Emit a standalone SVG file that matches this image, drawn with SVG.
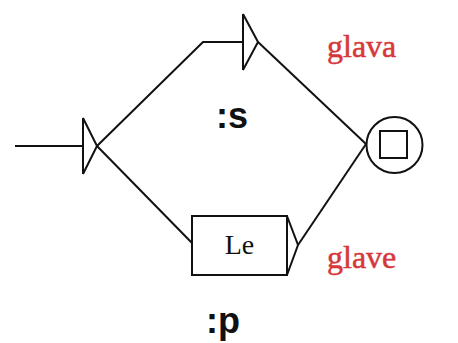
<svg xmlns="http://www.w3.org/2000/svg" width="458" height="343" viewBox="0 0 458 343">
  <style>
    .ln { fill: none; stroke: #111; stroke-width: 2; stroke-linejoin: miter; }
    .box { fill: #fff; stroke: #111; stroke-width: 2; }
    .tag { font-family: "Liberation Sans", Arial, sans-serif; font-weight: bold; font-size: 36px; fill: #111; }
    .out { font-family: "Liberation Serif", "Times New Roman", serif; font-size: 32px; fill: #d6373a; stroke: #d6373a; stroke-width: 0.5; }
    .lbl { font-family: "Liberation Serif", "Times New Roman", serif; font-size: 28px; fill: #111; }
  </style>
  <rect width="458" height="343" fill="#fff"/>

  <g id="connectors">
    <path class="ln" d="M15,146 H83"/>
    <path class="ln" d="M97,146 L203,42 H243"/>
    <path class="ln" d="M258,42 L366,144"/>
    <path class="ln" d="M97,146 L192,243"/>
    <path class="ln" d="M298,245 L366,144"/>
  </g>

  <g id="start">
    <path class="ln" d="M83,118 V174 M83,118 L97,146 L83,174"/>
  </g>

  <g id="node-s">
    <path class="ln" d="M243,14 V70 M243,14 L258,42 L243,70"/>
    <text class="out" x="327" y="57">glava</text>
    <text class="tag" x="216" y="128">:s</text>
  </g>

  <g id="node-le">
    <rect class="box" x="192" y="216" width="95" height="59"/>
    <path class="ln" d="M287,216 L298,245 L287,275"/>
    <text class="lbl" x="239.5" y="254" text-anchor="middle">Le</text>
    <text class="out" x="327" y="268">glave</text>
    <text class="tag" x="206" y="333">:p</text>
  </g>

  <g id="final">
    <circle class="ln" cx="394.5" cy="145" r="28"/>
    <rect class="ln" x="380" y="131" width="27" height="27"/>
  </g>
</svg>
